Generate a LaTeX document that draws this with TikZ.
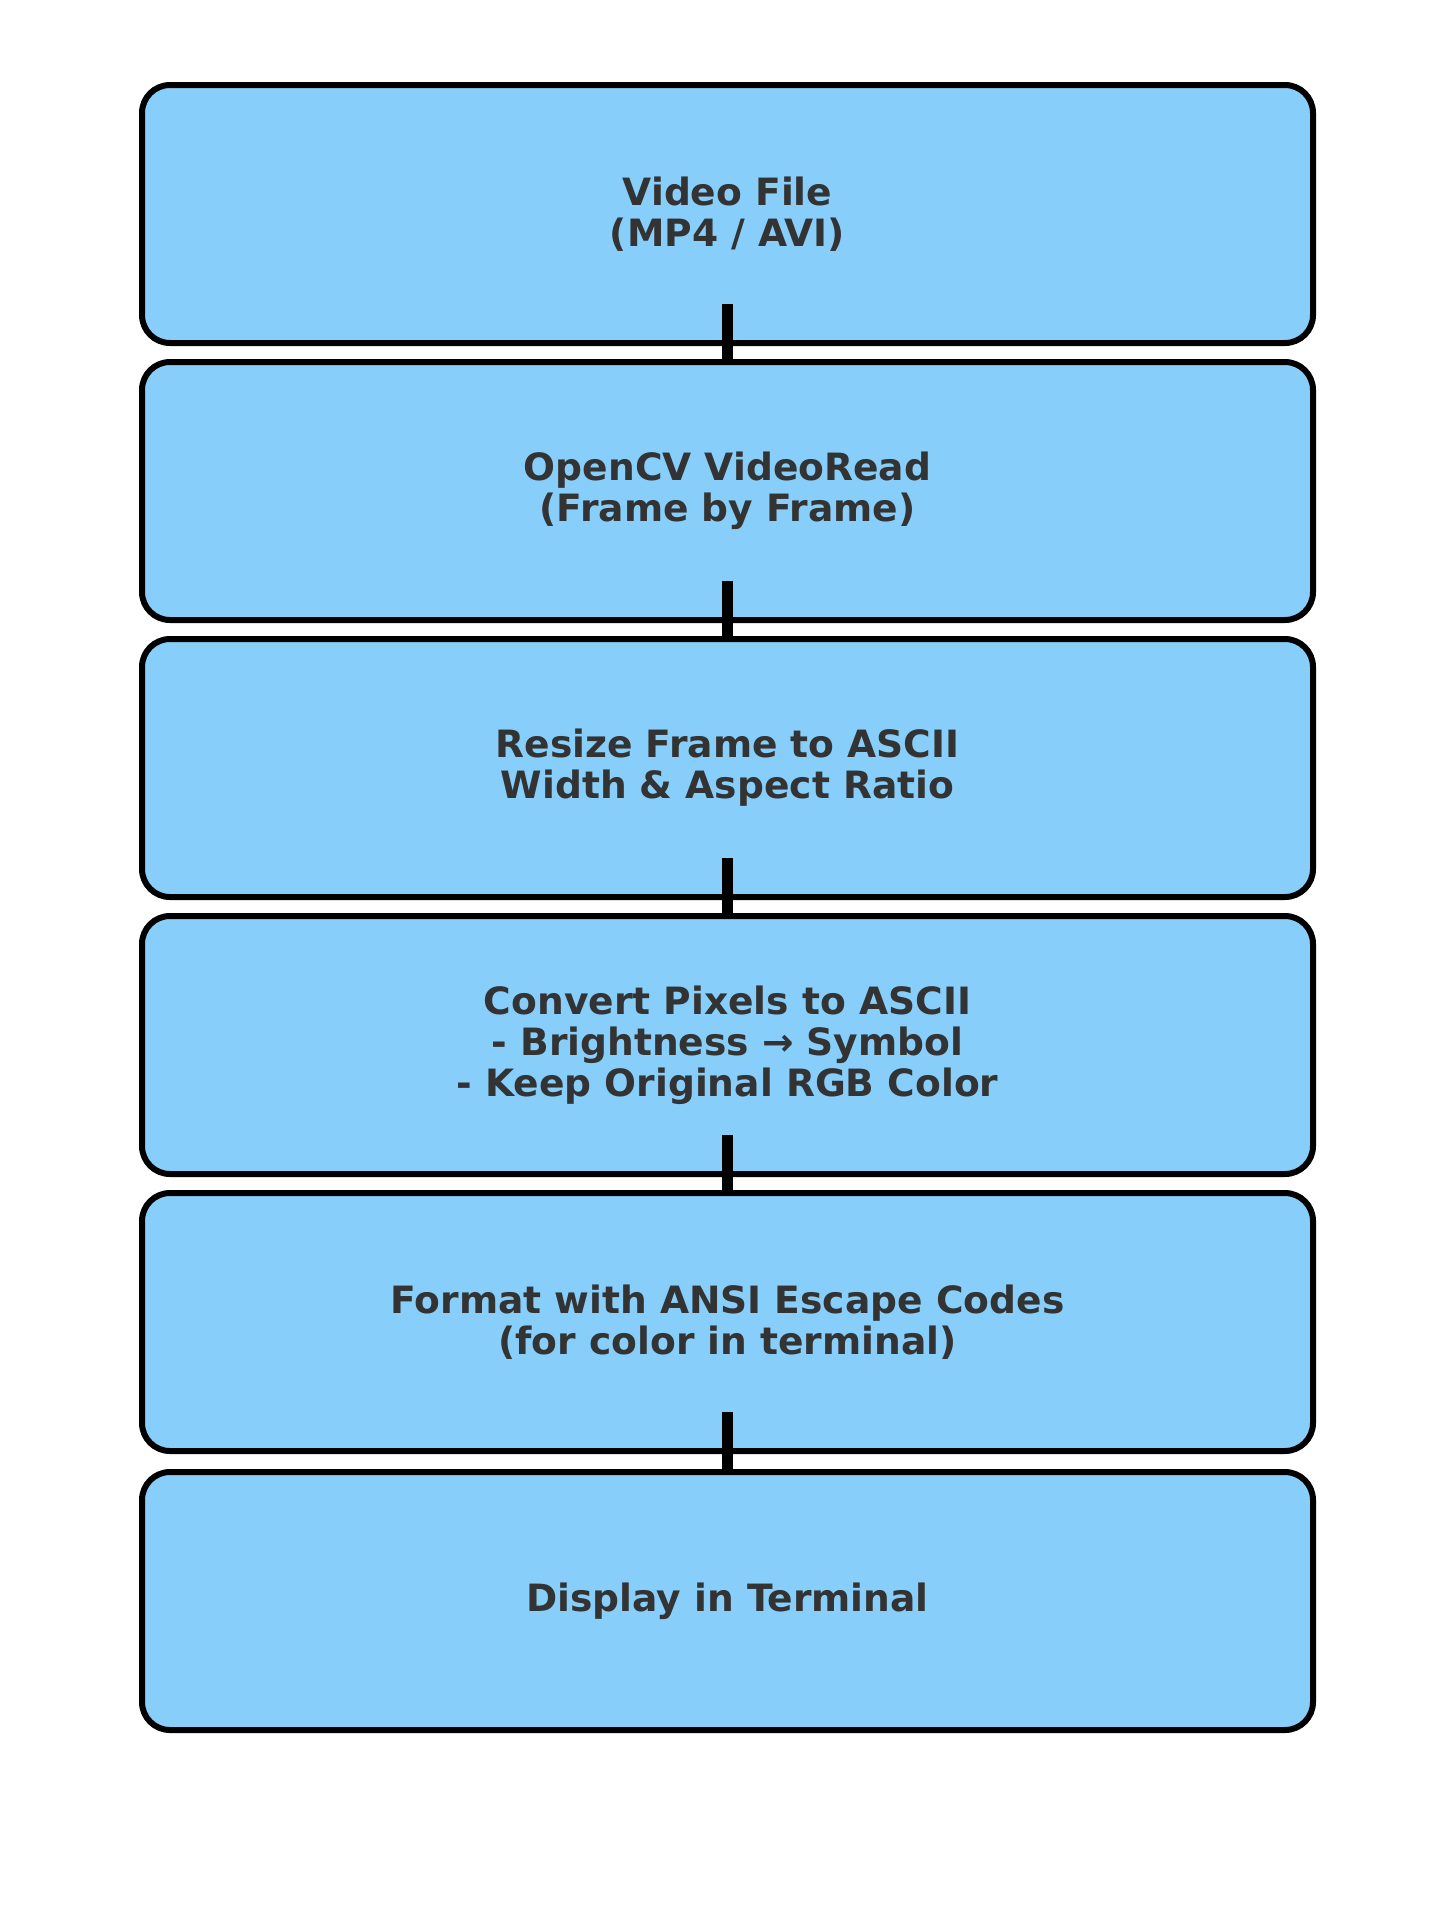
\documentclass[tikz,border=0pt]{standalone}
\usepackage{fontspec}
\setmainfont{DejaVu Sans}
\definecolor{boxfill}{RGB}{135,206,250}
\definecolor{txt}{RGB}{51,51,51}
\begin{document}
\begin{tikzpicture}[x=1pt,y=-1pt,
  stage/.style={draw=black, line width=6pt, fill=boxfill, rounded corners=28pt,
    minimum width=1171pt, minimum height=258pt, align=center, text=txt,
    font=\fontsize{37.6}{41}\selectfont\bfseries, inner sep=0pt},
  link/.style={draw=black, line width=11pt}]
\useasboundingbox (0,0) rectangle (1455,1907);
\node[stage] (b1) at (727.5,214) {Video File\\(MP4 / AVI)};
\node[stage] (b2) at (727.5,491) {OpenCV VideoRead\\(Frame by Frame)};
\node[stage] (b3) at (727.5,768) {Resize Frame to ASCII\\Width \& Aspect Ratio};
\node[stage] (b4) at (727.5,1045) {Convert Pixels to ASCII\\- Brightness → Symbol\\- Keep Original RGB Color};
\node[stage] (b5) at (727.5,1322) {Format with ANSI Escape Codes\\(for color in terminal)};
\node[stage] (b6) at (727.5,1601) {Display in Terminal};
\foreach \a/\b in {b1/b2,b2/b3,b3/b4,b4/b5,b5/b6}
  \draw[link] ([yshift=42pt]\a.south) -- (\b.north);
\end{tikzpicture}
\end{document}
